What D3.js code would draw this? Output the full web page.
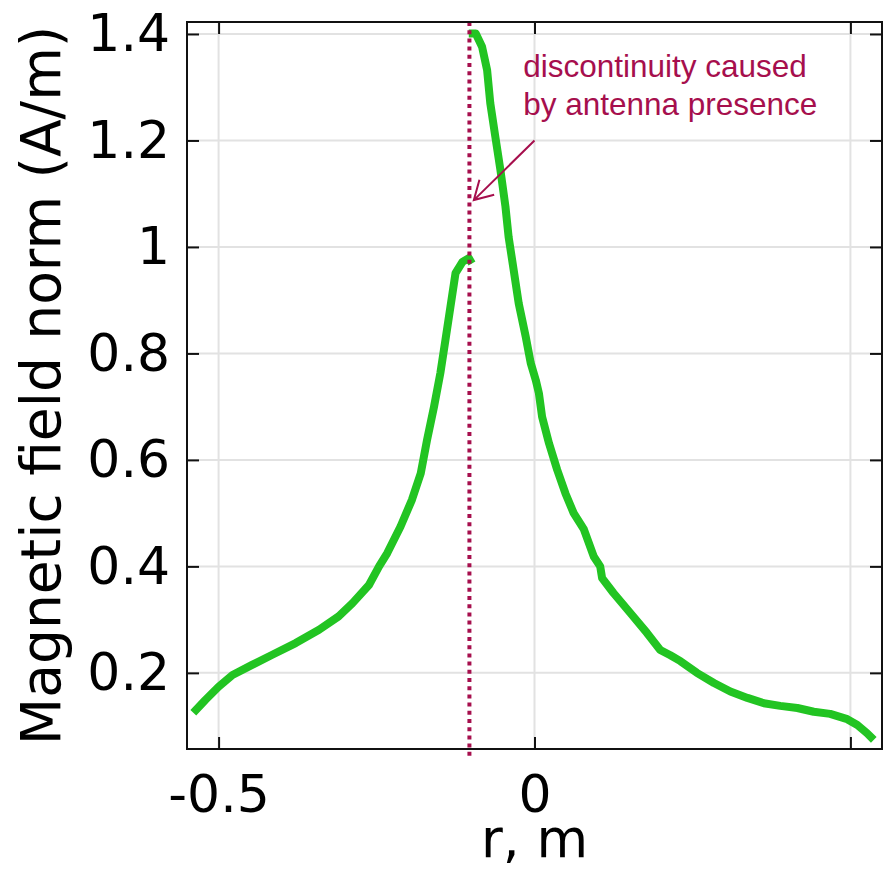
<!DOCTYPE html>
<html>
<head>
<meta charset="utf-8">
<script src="https://cdn.jsdelivr.net/npm/d3@7"></script>
<style>
  body { margin: 0; background: #fff; }
  svg { display: block; }
</style>
</head>
<body>
<div id="chart"></div>
<script>
const width = 895;
const height = 872;
const margin = { top: 22, right: 13, bottom: 123, left: 187 };

// field norm left of the antenna (r in m, H in A/m)
const rLeft = [-0.540, -0.521, -0.500, -0.478, -0.447, -0.415, -0.378, -0.341, -0.310, -0.288,
  -0.262, -0.246, -0.233, -0.212, -0.194, -0.180, -0.170, -0.159, -0.149, -0.141,
  -0.133, -0.125, -0.114, -0.104, -0.099];
const hLeft = [0.125, 0.149, 0.174, 0.196, 0.215, 0.234, 0.256, 0.281, 0.306, 0.331,
  0.365, 0.400, 0.425, 0.475, 0.525, 0.575, 0.638, 0.700, 0.763, 0.825,
  0.888, 0.951, 0.972, 0.979, 0.969];

// field norm right of the antenna
const rRight = [-0.104, -0.093, -0.083, -0.075, -0.070, -0.062, -0.054, -0.046, -0.041, -0.033,
  -0.025, -0.014, -0.006, 0.002, 0.007, 0.012, 0.023, 0.036, 0.049, 0.062,
  0.078, 0.094, 0.104, 0.107, 0.125, 0.152, 0.178, 0.199, 0.215, 0.231,
  0.257, 0.284, 0.310, 0.337, 0.363, 0.389, 0.416, 0.442, 0.468, 0.495,
  0.511, 0.526, 0.537];
const hRight = [1.401, 1.401, 1.376, 1.332, 1.270, 1.207, 1.145, 1.076, 1.019, 0.957,
  0.894, 0.832, 0.782, 0.750, 0.725, 0.681, 0.631, 0.581, 0.537, 0.500,
  0.470, 0.418, 0.400, 0.378, 0.350, 0.312, 0.275, 0.243, 0.233, 0.222,
  0.200, 0.181, 0.165, 0.153, 0.143, 0.138, 0.134, 0.127, 0.123, 0.113,
  0.102, 0.087, 0.074];

const xTicks = [-0.5, 0, 0.5];
const xTickLabels = ['-0.5', '0', ''];
const yTicks = [0.2, 0.4, 0.6, 0.8, 1, 1.2, 1.4];
const yTickLabels = ['0.2', '0.4', '0.6', '0.8', '1', '1.2', '1.4'];

const antennaR = -0.103;
const noteLines = ['discontinuity caused', 'by antenna presence'];
const notePos = [-0.018, 1.32];
const arrowFrom = [0, 1.20];
const arrowTo = [-0.096, 1.088];

const green = '#22c422';
const crimson = '#a60f4d';
const tickFont = 'DejaVu Sans, sans-serif';

const innerW = width - margin.left - margin.right;
const innerH = height - margin.top - margin.bottom;

const x = d3.scaleLinear().domain([-0.55, 0.55]).range([0, innerW]);
const y = d3.scaleLinear().domain([0.057, 1.4225]).range([innerH, 0]);

const svg = d3.select('#chart').append('svg')
  .attr('width', width)
  .attr('height', height);

const g = svg.append('g')
  .attr('transform', `translate(${margin.left},${margin.top})`);

// grid
g.append('g').selectAll('line')
  .data(yTicks)
  .join('line')
  .attr('x1', 0).attr('x2', innerW)
  .attr('y1', d => y(d)).attr('y2', d => y(d))
  .attr('stroke', '#e2e2e2')
  .attr('stroke-width', 2);

g.append('g').selectAll('line')
  .data(xTicks)
  .join('line')
  .attr('x1', d => x(d)).attr('x2', d => x(d))
  .attr('y1', 0).attr('y2', innerH)
  .attr('stroke', '#e2e2e2')
  .attr('stroke-width', 2);

// curve, two pieces either side of the antenna
const line = d3.line()
  .x(d => x(d[0]))
  .y(d => y(d[1]));

[[rLeft, hLeft], [rRight, hRight]].forEach(([rs, hs]) => {
  g.append('path')
    .attr('d', line(rs.map((r, i) => [r, hs[i]])))
    .attr('fill', 'none')
    .attr('stroke', green)
    .attr('stroke-width', 8)
    .attr('stroke-linejoin', 'round');
});

// antenna position
g.append('line')
  .attr('x1', x(antennaR)).attr('x2', x(antennaR))
  .attr('y1', 0).attr('y2', innerH + 8)
  .attr('stroke', crimson)
  .attr('stroke-width', 4)
  .attr('stroke-dasharray', '4,4.2');

// annotation
const note = g.append('text')
  .attr('x', x(notePos[0]))
  .attr('y', y(notePos[1]))
  .attr('fill', crimson)
  .style('font-family', 'Liberation Sans, Arial, sans-serif')
  .style('font-size', '31.5px');

note.selectAll('tspan')
  .data(noteLines)
  .join('tspan')
  .attr('x', x(notePos[0]))
  .attr('dy', (d, i) => i ? 38 : 0)
  .text(d => d);

const ax0 = x(arrowFrom[0]), ay0 = y(arrowFrom[1]);
const ax1 = x(arrowTo[0]), ay1 = y(arrowTo[1]);
const ang = Math.atan2(ay0 - ay1, ax0 - ax1);
const barb = 21, spread = Math.PI / 6;
const barbPt = s => [ax1 + barb * Math.cos(ang + s), ay1 + barb * Math.sin(ang + s)];
const b1 = barbPt(spread), b2 = barbPt(-spread);

g.append('path')
  .attr('d', `M${ax0},${ay0}L${ax1},${ay1}M${b1[0]},${b1[1]}L${ax1},${ay1}L${b2[0]},${b2[1]}`)
  .attr('fill', 'none')
  .attr('stroke', crimson)
  .attr('stroke-width', 2);

// axes with inward ticks
const yAxis = d3.axisLeft(y)
  .tickValues(yTicks)
  .tickFormat((d, i) => yTickLabels[i])
  .tickSizeInner(-12)
  .tickSizeOuter(0)
  .tickPadding(17);

const xAxis = d3.axisBottom(x)
  .tickValues(xTicks)
  .tickFormat((d, i) => xTickLabels[i])
  .tickSizeInner(-12)
  .tickSizeOuter(0)
  .tickPadding(26);

const styleAxis = sel => {
  sel.select('.domain').remove();
  sel.selectAll('line').attr('stroke', '#111').attr('stroke-width', 2);
  sel.selectAll('text')
    .attr('fill', '#000')
    .style('font-family', tickFont)
    .style('font-size', '52px');
};

g.append('g').call(yAxis).call(styleAxis);
g.append('g').attr('transform', `translate(0,${innerH})`).call(xAxis).call(styleAxis);

// ticks on the top and right edges, no labels
g.append('g').call(d3.axisTop(x).tickValues(xTicks).tickFormat('').tickSizeInner(-12).tickSizeOuter(0))
  .call(styleAxis);
g.append('g').attr('transform', `translate(${innerW},0)`)
  .call(d3.axisRight(y).tickValues(yTicks).tickFormat('').tickSizeInner(-12).tickSizeOuter(0))
  .call(styleAxis);

// frame
g.append('rect')
  .attr('width', innerW)
  .attr('height', innerH)
  .attr('fill', 'none')
  .attr('stroke', '#111')
  .attr('stroke-width', 2);

// axis titles
svg.append('text')
  .attr('x', margin.left + innerW / 2)
  .attr('y', 857)
  .attr('text-anchor', 'middle')
  .style('font-family', tickFont)
  .style('font-size', '53px')
  .text('r, m');

svg.append('text')
  .attr('transform', `translate(60,${margin.top + innerH / 2}) rotate(-90)`)
  .attr('text-anchor', 'middle')
  .style('font-family', tickFont)
  .style('font-size', '55px')
  .text('Magnetic field norm (A/m)');
</script>
</body>
</html>
